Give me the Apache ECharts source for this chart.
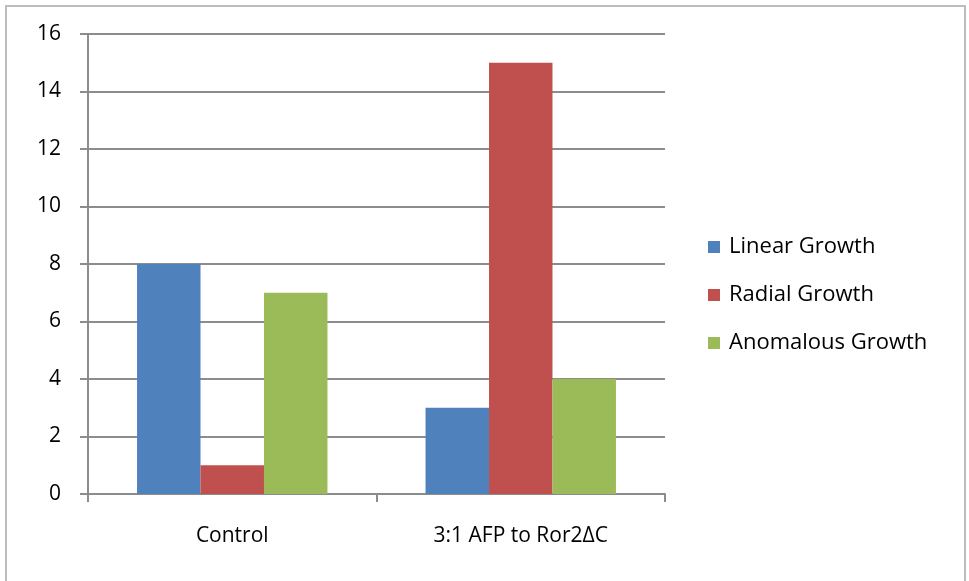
<!DOCTYPE html>
<html>
<head>
<meta charset="utf-8">
<script src="https://cdn.jsdelivr.net/npm/echarts@6/dist/echarts.min.js"></script>
<style>
  html, body { margin: 0; padding: 0; background: #fff; }
  #chart { width: 969px; height: 581px; }
</style>
</head>
<body>
<div id="chart"></div>
<script>
  // data
  const categories = ['Control', '3:1 AFP to Ror2ΔC']
  const linearGrowth = [8, 3]
  const radialGrowth = [1, 15]
  const anomalousGrowth = [7, 4]
  const yTicks = { min: 0, max: 16, interval: 2 }

  const font = 'Open Sans'
  const gridColor = '#8c8c8c'

  const chart = echarts.init(document.getElementById('chart'))

  const barSeries = (name, data, color) => ({
    name: name,
    type: 'bar',
    data: data,
    barGap: '0%',
    barCategoryGap: '34%',
    itemStyle: { color: color },
    emphasis: { disabled: true }
  })

  const option = {
    animation: false,
    textStyle: { fontFamily: font },
    graphic: [{
      type: 'rect',
      shape: { x: 6, y: 6, width: 959, height: 600 },
      style: { fill: 'none', stroke: '#bdbdbd', lineWidth: 2 },
      silent: true
    }],
    grid: { left: 88, right: 304, top: 34, bottom: 87 },
    legend: {
      orient: 'vertical',
      left: 703,
      top: 230,
      icon: 'rect',
      itemWidth: 12,
      itemHeight: 12,
      itemGap: 24,
      textStyle: {
        fontFamily: font,
        fontSize: 22,
        color: '#000',
        lineHeight: 24,
        padding: [0, 0, 0, 4]
      },
      data: ['Linear Growth', 'Radial Growth', 'Anomalous Growth']
    },
    xAxis: {
      type: 'category',
      data: categories,
      axisLine: { lineStyle: { color: gridColor, width: 2 } },
      axisTick: { show: true, length: 8, lineStyle: { color: gridColor, width: 2 } },
      axisLabel: { color: '#000', fontSize: 21, fontFamily: font, margin: 32 }
    },
    yAxis: {
      type: 'value',
      min: yTicks.min,
      max: yTicks.max,
      interval: yTicks.interval,
      axisLine: { show: true, lineStyle: { color: gridColor, width: 2 } },
      axisTick: { show: true, length: 8, lineStyle: { color: gridColor, width: 2 } },
      splitLine: { lineStyle: { color: gridColor, width: 2 } },
      axisLabel: { color: '#000', fontSize: 21, fontFamily: font, margin: 27 }
    },
    series: [
      barSeries('Linear Growth', linearGrowth, '#4f81bd'),
      barSeries('Radial Growth', radialGrowth, '#c0504d'),
      barSeries('Anomalous Growth', anomalousGrowth, '#9bbb59')
    ]
  }

  chart.setOption(option)
</script>
</body>
</html>
